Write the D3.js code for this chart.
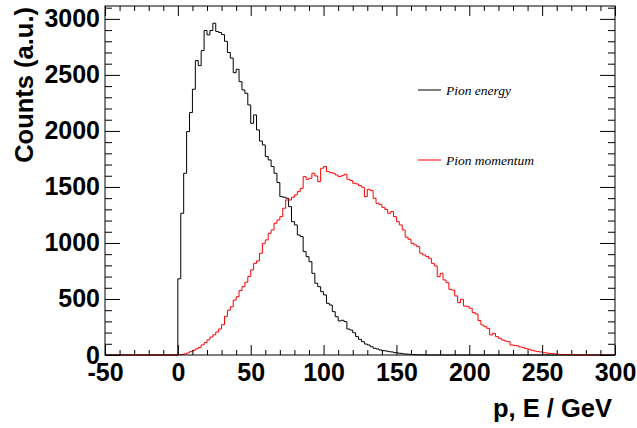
<!DOCTYPE html>
<html>
<head>
<meta charset="utf-8">
<script src="https://cdn.jsdelivr.net/npm/d3@7"></script>
<style>
  body { margin: 0; background: #fff; }
  svg { display: block; }
  .axis text { font-family: "Liberation Sans", Arial, sans-serif; font-weight: bold; font-size: 25px; fill: #000; }
  .axis line { stroke: #000; }
  .title { font-family: "Liberation Sans", Arial, sans-serif; font-weight: bold; font-size: 25.5px; }
  .leg { font-family: "Liberation Serif", "Times New Roman", serif; font-style: italic; font-size: 13.5px; }
</style>
</head>
<body>
<script>
// histogram binning (GeV)
const xMin = -50, xMax = 300, binWidth = 2
const firstFilled = 0   // both arrays start at 0 GeV

const energyCounts = [
  680, 1265, 1622, 1994, 2164, 2372, 2628, 2583, 2717, 2896,
  2857, 2896, 2961, 2887, 2878, 2860, 2800, 2700, 2650, 2520,
  2550, 2440, 2366, 2336, 2232, 2068, 2143, 2009, 1910, 1875,
  1771, 1741, 1682, 1622, 1539, 1414, 1408, 1399, 1324, 1190,
  1161, 1071, 1057, 923, 878, 833, 729, 640, 610, 565,
  536, 461, 446, 387, 342, 304, 310, 298, 232, 223,
  199, 164, 140, 119, 98, 89, 74, 60, 54, 45,
  39, 36, 30, 27, 21, 18, 15, 10, 8, 6,
  4, 3, 2, 1, 1
]

const momentumCounts = [
  2, 5, 10, 18, 30, 42, 55, 68, 90, 110,
  135, 160, 180, 205, 232, 270, 345, 400, 431, 490,
  520, 575, 610, 650, 700, 760, 818, 840, 908, 997,
  1027, 1086, 1116, 1176, 1205, 1235, 1310, 1384, 1384, 1408,
  1429, 1458, 1488, 1592, 1568, 1577, 1622, 1598, 1548, 1667,
  1682, 1637, 1628, 1622, 1607, 1592, 1600, 1613, 1568, 1557,
  1533, 1527, 1512, 1497, 1414, 1479, 1467, 1399, 1354, 1345,
  1318, 1300, 1265, 1280, 1235, 1190, 1161, 1116, 1051, 1033,
  997, 982, 967, 908, 893, 880, 863, 818, 795, 699,
  729, 670, 646, 586, 580, 527, 467, 497, 437, 432,
  417, 378, 366, 307, 268, 253, 238, 179, 193, 164,
  149, 134, 125, 119, 89, 86, 82, 72, 66, 57,
  51, 42, 36, 30, 27, 21, 18, 15, 12, 9,
  6, 5, 4, 3, 2, 2, 1, 1
]

const xTicks = [-50, 0, 50, 100, 150, 200, 250, 300]
const yTicks = [0, 500, 1000, 1500, 2000, 2500, 3000]
const legendItems = [
  {label: "Pion energy", color: "#000000"},
  {label: "Pion momentum", color: "#ff0000"}
]

const W = 637, H = 428
const frame = {left: 105, right: 615, top: 6, bottom: 355}

const x = d3.scaleLinear().domain([xMin, xMax]).range([frame.left, frame.right])
const y = d3.scaleLinear().domain([0, 3115]).range([frame.bottom, frame.top])

// full-range bins, zero outside the filled part
const nBins = Math.round((xMax - xMin) / binWidth)
function toBins(counts) {
  const offset = Math.round((firstFilled - xMin) / binWidth)
  const out = []
  for (let i = 0; i < nBins; i++) {
    const v = counts[i - offset]
    out.push({lo: xMin + i * binWidth, v: v === undefined ? 0 : v})
  }
  out.push({lo: xMax, v: out[out.length - 1].v}) // closing point for the step
  return out
}

const svg = d3.select("body").append("svg")
  .attr("width", W)
  .attr("height", H)

svg.append("rect").attr("width", W).attr("height", H).attr("fill", "#fff")

const step = d3.line()
  .x(d => x(d.lo))
  .y(d => y(d.v))
  .curve(d3.curveStepAfter)

svg.append("path")
  .datum(toBins(energyCounts))
  .attr("d", step)
  .attr("fill", "none")
  .attr("stroke", "#000")
  .attr("stroke-width", 1)

svg.append("path")
  .datum(toBins(momentumCounts))
  .attr("d", step)
  .attr("fill", "none")
  .attr("stroke", "#ff0000")
  .attr("stroke-width", 1)

// frame
svg.append("rect")
  .attr("x", frame.left).attr("y", frame.top)
  .attr("width", frame.right - frame.left)
  .attr("height", frame.bottom - frame.top)
  .attr("fill", "none").attr("stroke", "#000").attr("stroke-width", 1)

const xMinor = d3.range(xMin, xMax + 1, 10).filter(v => !xTicks.includes(v))
const yMinor = d3.range(0, 3101, 100).filter(v => !yTicks.includes(v))
const fmt = d => String(d)

// bottom
svg.append("g").attr("class", "axis").attr("transform", `translate(0,${frame.bottom})`)
  .call(d3.axisBottom(x).tickValues(xTicks).tickSize(-10).tickPadding(8).tickFormat(fmt))
svg.append("g").attr("class", "axis").attr("transform", `translate(0,${frame.bottom})`)
  .call(d3.axisBottom(x).tickValues(xMinor).tickSize(-5).tickFormat(""))
// top
svg.append("g").attr("class", "axis").attr("transform", `translate(0,${frame.top})`)
  .call(d3.axisTop(x).tickValues(xTicks).tickSize(-10).tickFormat(""))
svg.append("g").attr("class", "axis").attr("transform", `translate(0,${frame.top})`)
  .call(d3.axisTop(x).tickValues(xMinor).tickSize(-5).tickFormat(""))
// left
svg.append("g").attr("class", "axis").attr("transform", `translate(${frame.left},0)`)
  .call(d3.axisLeft(y).tickValues(yTicks).tickSize(-15).tickPadding(5).tickFormat(fmt))
svg.append("g").attr("class", "axis").attr("transform", `translate(${frame.left},0)`)
  .call(d3.axisLeft(y).tickValues(yMinor).tickSize(-7).tickFormat(""))
// right
svg.append("g").attr("class", "axis").attr("transform", `translate(${frame.right},0)`)
  .call(d3.axisRight(y).tickValues(yTicks).tickSize(-15).tickFormat(""))
svg.append("g").attr("class", "axis").attr("transform", `translate(${frame.right},0)`)
  .call(d3.axisRight(y).tickValues(yMinor).tickSize(-7).tickFormat(""))

svg.selectAll(".axis .domain").remove()

// axis titles
svg.append("text").attr("class", "title")
  .attr("x", 612).attr("y", 417)
  .attr("text-anchor", "end")
  .text("p, E / GeV")

svg.append("text").attr("class", "title")
  .attr("transform", "translate(33,7) rotate(-90)")
  .attr("text-anchor", "end")
  .text("Counts (a.u.)")

// legend
const legendY = [90, 160]
const leg = svg.append("g")
leg.selectAll("line").data(legendItems).join("line")
  .attr("x1", 418).attr("x2", 441)
  .attr("y1", (d, i) => legendY[i]).attr("y2", (d, i) => legendY[i])
  .attr("stroke", d => d.color).attr("stroke-width", 1)
leg.selectAll("text").data(legendItems).join("text")
  .attr("class", "leg")
  .attr("x", 446)
  .attr("y", (d, i) => legendY[i] + 4.5)
  .text(d => d.label)
</script>
</body>
</html>
